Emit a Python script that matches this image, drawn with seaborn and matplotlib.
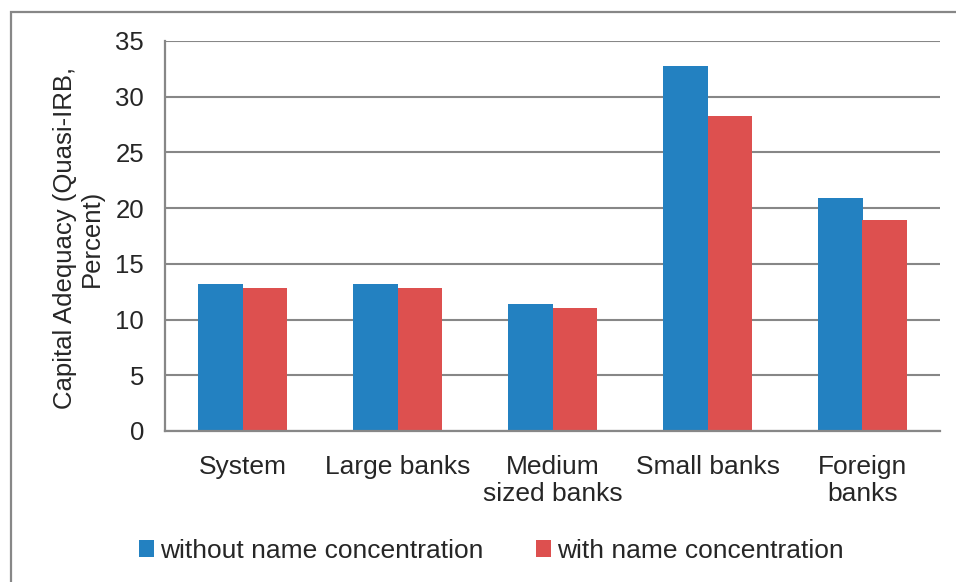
import matplotlib
matplotlib.use("Agg")
from matplotlib import pyplot as plt
from matplotlib.patches import Rectangle
import seaborn as sns
import pandas as pd

# Chart data
categories = ["System", "Large banks", "Medium\nsized banks", "Small banks", "Foreign\nbanks"]
without_conc = [13.2, 13.2, 11.4, 32.8, 20.9]
with_conc = [12.8, 12.8, 11.0, 28.3, 18.9]
series = ["without name concentration", "with name concentration"]
colors = ["#2381C1", "#DD504F"]
y_ticks = [0, 5, 10, 15, 20, 25, 30, 35]

df = pd.DataFrame({
    "category": categories * 2,
    "value": without_conc + with_conc,
    "series": [series[0]] * len(categories) + [series[1]] * len(categories),
})

sns.set_style("white")
plt.rcParams["font.family"] = ["Liberation Sans", "DejaVu Sans"]
plt.rcParams["font.size"] = 19

grey = "#878787"

fig = plt.figure(figsize=(9.56, 5.82), dpi=100)
ax = fig.add_axes([165 / 956, 1 - 431 / 582, 775 / 956, 390 / 582])

sns.barplot(data=df, x="category", y="value", hue="series", order=categories,
            hue_order=series, palette=colors, width=0.58, gap=0, ax=ax,
            saturation=1, edgecolor="none", linewidth=0)

ax.set_xlim(-0.5, len(categories) - 0.5)
ax.set_ylim(0, 35)
ax.set_yticks(y_ticks)
ax.yaxis.grid(True, color=grey, linewidth=1.5)
ax.set_axisbelow(True)
ax.set_xlabel("")
ax.set_ylabel("")

for side in ["top", "right"]:
    ax.spines[side].set_visible(False)
for side in ["left", "bottom"]:
    ax.spines[side].set_color(grey)
    ax.spines[side].set_linewidth(1.6)

ax.tick_params(axis="y", length=5, width=1.4, color=grey, pad=10, labelsize=18.5)
ax.tick_params(axis="x", which="major", length=0, pad=17, labelsize=19)
ax.set_xticks([i - 0.5 for i in range(len(categories) + 1)], minor=True)
ax.tick_params(axis="x", which="minor", length=4.5, width=1.4, color=grey, direction="out")

fig.text(78 / 956, 1 - 238 / 582, "Capital Adequacy (Quasi-IRB,\nPercent)",
         rotation=90, ha="center", va="center", multialignment="center",
         fontsize=18.5, linespacing=1.15)

ax.legend_.remove()
handles, labels = ax.get_legend_handles_labels()
fig.legend(handles, labels, loc="center", bbox_to_anchor=(0.514, 0.053),
           ncol=2, frameon=False, fontsize=19, handlelength=0.58, handleheight=0.6,
           handletextpad=0.22, columnspacing=2.0)

# outer chart border (Excel style)
fig.add_artist(Rectangle((11 / 956, -0.1), 1.2, 1.1 - 12 / 582,
                         transform=fig.transFigure, fill=False,
                         edgecolor=grey, linewidth=1.6))

fig.savefig("out.png", dpi=100)
